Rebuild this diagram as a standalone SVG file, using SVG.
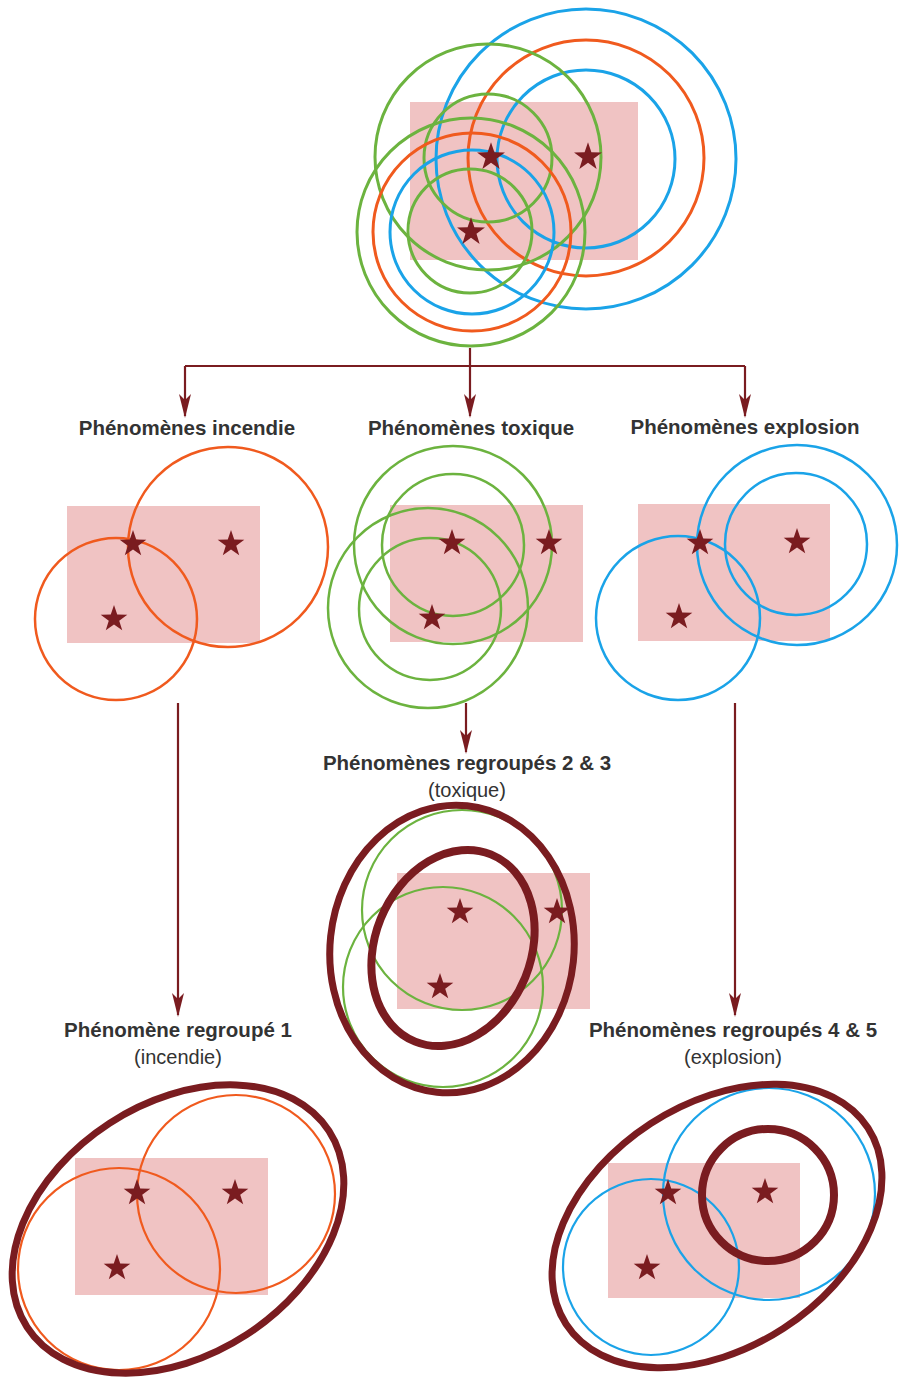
<svg xmlns="http://www.w3.org/2000/svg" width="905" height="1383" viewBox="0 0 905 1383">
<style>
.zone{fill:#f0c3c3}
.star{fill:#7a1c20}
.c{fill:none}
.o{stroke:#f05a1e}
.g{stroke:#6cb33f}
.b{stroke:#1aa3e8}
.t{stroke-width:3}
.m{stroke-width:2.5}
.d{fill:none;stroke:#7a1c20}
.lbl{font-family:"Liberation Sans",Arial,sans-serif;font-weight:bold;font-size:20.5px;fill:#333333;text-anchor:middle}
.sub{font-family:"Liberation Sans",Arial,sans-serif;font-size:20px;fill:#333333;text-anchor:middle}
.conn{fill:none;stroke:#7a1c20;stroke-width:2.2}
</style>
<defs>
<polygon id="st" points="0,-14 3.23,-4.45 13.31,-4.33 5.23,1.7 8.23,11.33 0,5.5 -8.23,11.33 -5.23,1.7 -13.31,-4.33 -3.23,-4.45"/>
<marker id="ah" viewBox="0 0 24 12" refX="22" refY="6" markerWidth="24" markerHeight="12" markerUnits="userSpaceOnUse" orient="auto">
<path d="M0,0 L24,6 L0,12 L6,6 Z" fill="#7a1c20"/>
</marker>
</defs>
<rect width="905" height="1383" fill="#ffffff"/>

<g id="top">
<rect class="zone" x="410" y="102" width="228" height="158"/>
<circle class="c b t" cx="586" cy="159" r="150"/>
<circle class="c o t" cx="586" cy="158" r="118"/>
<circle class="c b t" cx="586" cy="159" r="89"/>
<circle class="c g t" cx="488" cy="157" r="113"/>
<circle class="c g t" cx="488" cy="158" r="64"/>
<circle class="c g t" cx="471" cy="232" r="114"/>
<circle class="c o t" cx="472" cy="232" r="99"/>
<circle class="c b t" cx="472" cy="232" r="82"/>
<circle class="c g t" cx="470" cy="231" r="62"/>
<use href="#st" class="star" transform="translate(491,157) scale(1.05)"/>
<use href="#st" class="star" transform="translate(588,157) scale(1.05)"/>
<use href="#st" class="star" transform="translate(471,232) scale(1.05)"/>
</g>

<g id="incendie">
<text class="lbl" x="187" y="435">Phénomènes incendie</text>
<rect class="zone" x="67" y="506" width="193" height="137"/>
<circle class="c o m" cx="228" cy="547" r="100"/>
<circle class="c o m" cx="116" cy="619" r="81"/>
<use href="#st" class="star" transform="translate(133,544)"/>
<use href="#st" class="star" transform="translate(231,544)"/>
<use href="#st" class="star" transform="translate(114,619)"/>
</g>

<g id="toxique">
<text class="lbl" x="471" y="435">Phénomènes toxique</text>
<rect class="zone" x="390" y="505" width="193" height="137"/>
<circle class="c g m" cx="453" cy="545" r="99"/>
<circle class="c g m" cx="453" cy="545" r="71"/>
<circle class="c g m" cx="428" cy="608" r="100"/>
<circle class="c g m" cx="430" cy="609" r="71"/>
<use href="#st" class="star" transform="translate(452,543)"/>
<use href="#st" class="star" transform="translate(549,543)"/>
<use href="#st" class="star" transform="translate(432,618)"/>
</g>

<g id="explosion">
<text class="lbl" x="745" y="434">Phénomènes explosion</text>
<rect class="zone" x="638" y="504" width="192" height="137"/>
<circle class="c b m" cx="797" cy="545" r="100"/>
<circle class="c b m" cx="796" cy="544" r="71"/>
<circle class="c b m" cx="678" cy="618" r="82"/>
<use href="#st" class="star" transform="translate(700,543)"/>
<use href="#st" class="star" transform="translate(797,542)"/>
<use href="#st" class="star" transform="translate(679,617)"/>
</g>

<g id="regroupe23">
<text class="lbl" x="467" y="770">Phénomènes regroupés 2 &amp; 3</text>
<text class="sub" x="467" y="797">(toxique)</text>
<rect class="zone" x="397" y="873" width="193" height="136"/>
<circle class="c g" stroke-width="2.2" cx="462" cy="910" r="100"/>
<circle class="c g" stroke-width="2.2" cx="443" cy="987" r="100"/>
<ellipse class="d" stroke-width="7" cx="452" cy="949" rx="122" ry="144" transform="rotate(6 452 949)"/>
<ellipse class="d" stroke-width="8" cx="453" cy="948" rx="78" ry="101" transform="rotate(22 453 948)"/>
<use href="#st" class="star" transform="translate(460,912)"/>
<use href="#st" class="star" transform="translate(557,912)"/>
<use href="#st" class="star" transform="translate(440,987)"/>
</g>

<g id="regroupe1">
<text class="lbl" x="178" y="1037">Phénomène regroupé 1</text>
<text class="sub" x="178" y="1064">(incendie)</text>
<rect class="zone" x="75" y="1158" width="193" height="137"/>
<circle class="c o" stroke-width="2.2" cx="236" cy="1194" r="99"/>
<circle class="c o" stroke-width="2.2" cx="119" cy="1269" r="101"/>
<ellipse class="d" stroke-width="7" cx="178" cy="1229" rx="180" ry="126" transform="rotate(-33 178 1229)"/>
<use href="#st" class="star" transform="translate(137,1193)"/>
<use href="#st" class="star" transform="translate(235,1193)"/>
<use href="#st" class="star" transform="translate(117,1268)"/>
</g>

<g id="regroupe45">
<text class="lbl" x="733" y="1037">Phénomènes regroupés 4 &amp; 5</text>
<text class="sub" x="733" y="1064">(explosion)</text>
<rect class="zone" x="608" y="1163" width="192" height="135"/>
<circle class="c b" stroke-width="2.2" cx="769" cy="1194" r="106"/>
<circle class="c b" stroke-width="2.2" cx="651" cy="1267" r="88"/>
<circle class="d" stroke-width="8" cx="768" cy="1195" r="66"/>
<ellipse class="d" stroke-width="7" cx="717" cy="1226" rx="180" ry="122" transform="rotate(-33 717 1226)"/>
<use href="#st" class="star" transform="translate(668,1193)"/>
<use href="#st" class="star" transform="translate(765,1192)"/>
<use href="#st" class="star" transform="translate(647,1268)"/>
</g>

<g id="connectors">
<path class="conn" d="M470,348 V366"/>
<path class="conn" d="M185,366 H745"/>
<path class="conn" d="M185,366 V416" marker-end="url(#ah)"/>
<path class="conn" d="M470,366 V416" marker-end="url(#ah)"/>
<path class="conn" d="M745,366 V416" marker-end="url(#ah)"/>
<path class="conn" d="M178,703 V1015" marker-end="url(#ah)"/>
<path class="conn" d="M466,703 V752" marker-end="url(#ah)"/>
<path class="conn" d="M735,703 V1015" marker-end="url(#ah)"/>
</g>
</svg>
